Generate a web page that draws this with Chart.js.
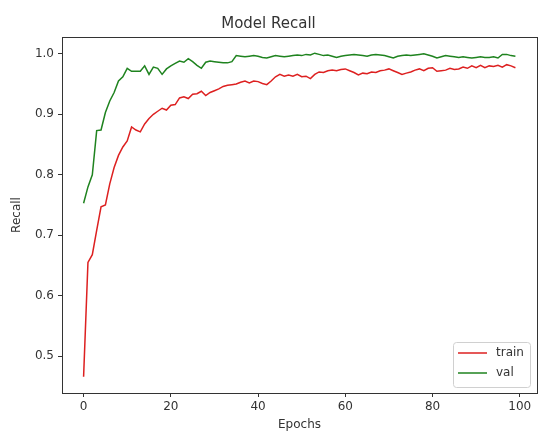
<!DOCTYPE html>
<html>
<head>
<meta charset="utf-8">
<script src="https://cdn.jsdelivr.net/npm/chart.js@4/dist/chart.umd.min.js"></script>
<style>
  html, body { margin: 0; padding: 0; background: #fff; }
  #wrap { width: 539px; height: 432px; }
</style>
</head>
<body>
<div id="wrap"><canvas id="recallChart" width="539" height="432"></canvas></div>
<script>
// Значения
const trainRecall = [
  0.466, 0.655, 0.668, 0.708, 0.747, 0.750, 0.785, 0.812, 0.832, 0.846,
  0.856, 0.879, 0.874, 0.871, 0.884, 0.893, 0.900, 0.905, 0.910, 0.907,
  0.915, 0.916, 0.927, 0.929, 0.926, 0.933, 0.934, 0.938, 0.931, 0.936,
  0.939, 0.942, 0.946, 0.948, 0.949, 0.950, 0.953, 0.955, 0.952, 0.955,
  0.954, 0.951, 0.949, 0.955, 0.962, 0.966, 0.963, 0.965, 0.963, 0.966,
  0.962, 0.963, 0.959, 0.966, 0.970, 0.969, 0.972, 0.973, 0.972, 0.974,
  0.975, 0.972, 0.969, 0.965, 0.968, 0.967, 0.970, 0.969, 0.972, 0.973,
  0.975, 0.972, 0.969, 0.966, 0.968, 0.970, 0.973, 0.975, 0.972, 0.976,
  0.977, 0.971, 0.972, 0.973, 0.976, 0.974, 0.975, 0.978, 0.976, 0.980,
  0.977, 0.981, 0.977, 0.980, 0.979, 0.981, 0.978, 0.982, 0.980, 0.977
];
const valRecall = [
  0.753, 0.780, 0.800, 0.873, 0.874, 0.903, 0.922, 0.936, 0.955, 0.962,
  0.976, 0.971, 0.971, 0.971, 0.980, 0.966, 0.978, 0.976, 0.966, 0.975,
  0.980, 0.984, 0.988, 0.986, 0.992, 0.987, 0.981, 0.976, 0.986, 0.988,
  0.987, 0.986, 0.985, 0.985, 0.987, 0.997, 0.996, 0.995, 0.996, 0.997,
  0.996, 0.994, 0.993, 0.995, 0.997, 0.996, 0.995, 0.996, 0.997, 0.998,
  0.997, 0.999, 0.998, 1.001, 0.999, 0.997, 0.998, 0.996, 0.994, 0.996,
  0.997, 0.998, 0.999, 0.998, 0.997, 0.996, 0.998, 0.999, 0.998, 0.997,
  0.995, 0.993, 0.996, 0.997, 0.998, 0.997, 0.998, 0.999, 1.000, 0.998,
  0.996, 0.993, 0.995, 0.997, 0.996, 0.995, 0.994, 0.995, 0.994, 0.993,
  0.994, 0.995, 0.994, 0.994, 0.995, 0.993, 0.999, 0.999, 0.997, 0.996
];
const seriesNames = ["train", "val"];
const xTickValues = [0, 20, 40, 60, 80, 100];
const yTickValues = [0.5, 0.6, 0.7, 0.8, 0.9, 1.0];

const FONT = "'DejaVu Sans', sans-serif";
const INK = "#333";

// Рамка вокруг области графика (как у matplotlib)
const framePlugin = {
  id: "frame",
  afterDatasetsDraw(chart) {
    const { ctx, chartArea: a } = chart;
    ctx.save();
    ctx.strokeStyle = INK;
    ctx.lineWidth = 1;
    ctx.strokeRect(Math.round(a.left) + 0.5, Math.round(a.top) + 0.5,
                   Math.round(a.right - a.left), Math.round(a.bottom - a.top));
    ctx.restore();
  }
};

// Легенда в правом нижнем углу, внутри графика
const insideLegend = {
  id: "insideLegend",
  afterDraw(chart) {
    const { ctx, chartArea: a } = chart;
    const w = 77, h = 45;
    const x = a.right - 7 - w, y = a.bottom - 6 - h;
    ctx.save();
    ctx.fillStyle = "rgba(255,255,255,0.8)";
    ctx.strokeStyle = "#d0d0d0";
    ctx.lineWidth = 1;
    ctx.beginPath();
    ctx.roundRect(x + 0.5, y + 0.5, w, h, 3);
    ctx.fill();
    ctx.stroke();
    ctx.font = "12px " + FONT;
    ctx.textBaseline = "middle";
    chart.data.datasets.forEach((ds, i) => {
      const ly = y + 11 + i * 20;
      ctx.strokeStyle = ds.borderColor;
      ctx.lineWidth = 1.5;
      ctx.beginPath();
      ctx.moveTo(x + 5, ly);
      ctx.lineTo(x + 34, ly);
      ctx.stroke();
      ctx.fillStyle = INK;
      ctx.fillText(ds.label, x + 43, ly);
    });
    ctx.restore();
  }
};

const allY = trainRecall.concat(valRecall);
const yLo = Math.min(...allY), yHi = Math.max(...allY);
const yPad = (yHi - yLo) * 0.05;
const xPad = (trainRecall.length - 1) * 0.05;

new Chart(document.getElementById("recallChart"), {
  type: "line",
  data: {
    datasets: [
      {
        label: seriesNames[0],
        data: trainRecall.map((v, i) => ({ x: i, y: v })),
        borderColor: "#dd2020",
        borderWidth: 1.5,
        pointRadius: 0,
        tension: 0,
        fill: false
      },
      {
        label: seriesNames[1],
        data: valRecall.map((v, i) => ({ x: i, y: v })),
        borderColor: "#1f831f",
        borderWidth: 1.5,
        pointRadius: 0,
        tension: 0,
        fill: false
      }
    ]
  },
  options: {
    responsive: false,
    animation: false,
    layout: { padding: { left: 0, right: 2, top: 0, bottom: 0 } },
    plugins: {
      legend: { display: false },
      tooltip: { enabled: false },
      title: {
        display: true,
        text: "Model Recall",
        color: INK,
        font: { family: FONT, size: 15, weight: "normal" },
        padding: { top: 15, bottom: 4 }
      }
    },
    scales: {
      x: {
        type: "linear",
        min: -xPad,
        max: trainRecall.length - 1 + xPad,
        afterBuildTicks: s => { s.ticks = xTickValues.map(v => ({ value: v })); },
        afterFit: s => { s.height = 39; },
        grid: { drawOnChartArea: false, drawTicks: true, tickLength: 4, color: INK },
        border: { display: true, color: INK },
        ticks: { color: INK, font: { family: FONT, size: 12 }, padding: 3, maxRotation: 0 },
        title: {
          display: true, text: "Epochs", color: INK,
          font: { family: FONT, size: 12 }, padding: { top: 0, bottom: 0 }
        }
      },
      y: {
        min: yLo - yPad,
        max: yHi + yPad,
        afterBuildTicks: s => { s.ticks = yTickValues.map(v => ({ value: v })); },
        afterFit: s => { s.width = 62; },
        grid: { drawOnChartArea: false, drawTicks: true, tickLength: 4, color: INK },
        border: { display: true, color: INK },
        ticks: {
          color: INK, font: { family: FONT, size: 12 }, padding: 4,
          callback: v => v.toFixed(1)
        },
        title: {
          display: true, text: "Recall", color: INK,
          font: { family: FONT, size: 12 }, padding: { top: 10, bottom: 0 }
        }
      }
    }
  },
  plugins: [framePlugin, insideLegend]
});
</script>
</body>
</html>
